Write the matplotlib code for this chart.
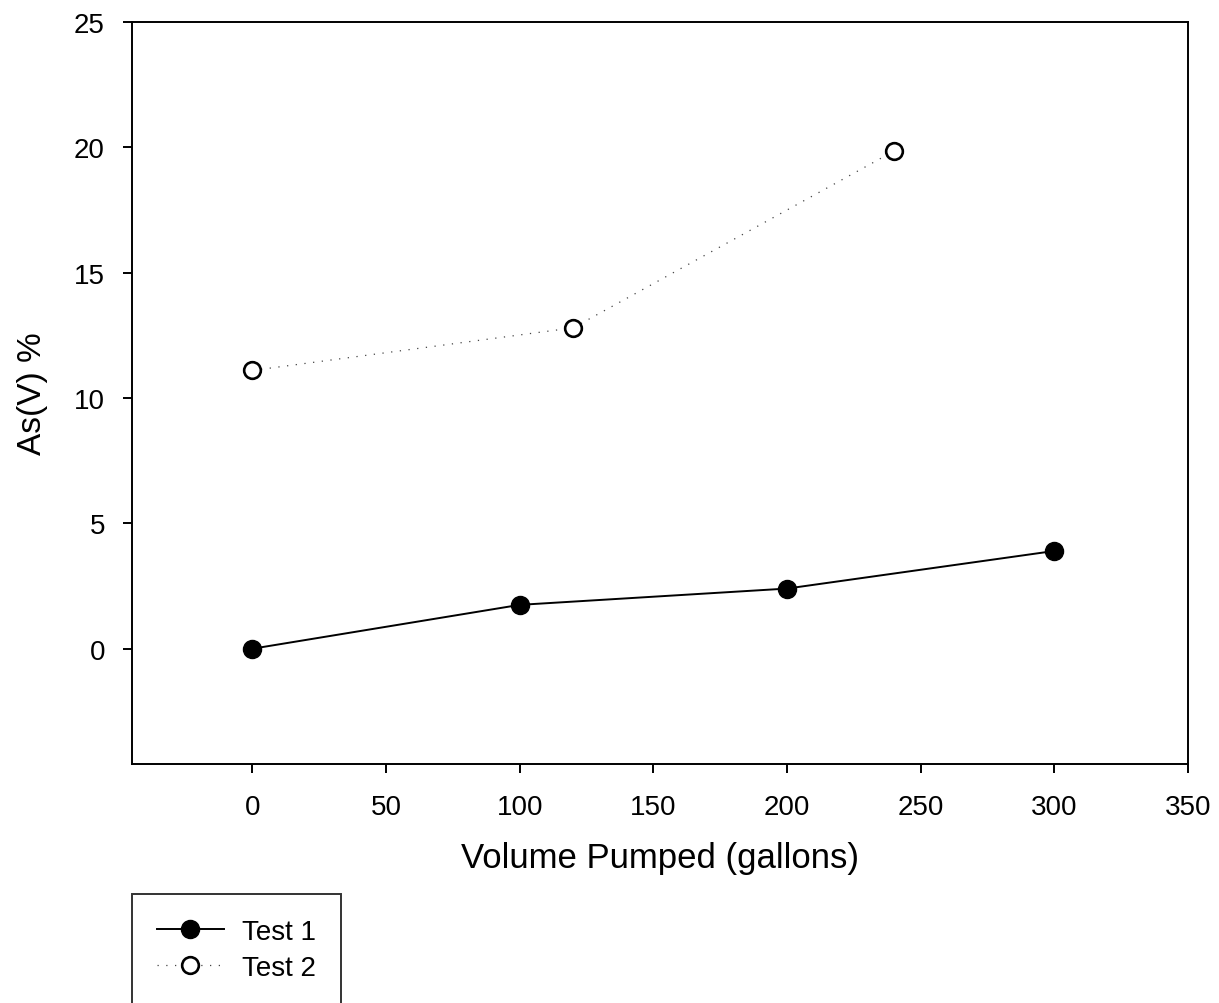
import matplotlib.pyplot as plt

plt.rcParams['font.family'] = ['Liberation Sans', 'DejaVu Sans']

# data
test1_x = [0, 100, 200, 300]
test1_y = [0.0, 1.75, 2.4, 3.9]
test2_x = [0, 120, 240]
test2_y = [11.1, 12.8, 19.85]

x_ticks = [0, 50, 100, 150, 200, 250, 300, 350]
y_ticks = [0, 5, 10, 15, 20, 25]

fig = plt.figure(figsize=(12.19, 10.04), dpi=100)
ax = fig.add_axes([0.1083, 0.238, 0.8663, 0.7391])

l1, = ax.plot(test1_x, test1_y, color='black', linewidth=1.4, marker='o',
              markersize=13, markerfacecolor='black', markeredgecolor='black',
              label='Test 1')
l2, = ax.plot(test2_x, test2_y, color='#444444', linewidth=0.9, linestyle=(0, (1, 6)),
              marker='o', markersize=12, markerfacecolor='white',
              markeredgecolor='black', markeredgewidth=1.9, label='Test 2')

ax.set_xlim(-45, 350)
ax.set_ylim(-4.6, 25)
ax.set_xticks(x_ticks)
ax.set_yticks(y_ticks)
ax.tick_params(direction='out', length=6.5, width=1.4, labelsize=20)
ax.tick_params(axis='x', pad=15)
ax.tick_params(axis='y', pad=13)
for s in ax.spines.values():
    s.set_linewidth(1.4)

ax.set_xlabel('Volume Pumped (gallons)', fontsize=25, labelpad=15)
ax.set_ylabel('As(V) %', fontsize=24, labelpad=19)

# legend sits under the axes, its frame runs off the bottom edge
leg = fig.legend(handles=[l1, l2], loc='upper left',
                 bbox_to_anchor=(132 / 1219, 1 - 895 / 1004),
                 fontsize=20, frameon=True, fancybox=False, edgecolor='black',
                 borderpad=0.9, handlelength=2.4, handletextpad=0.65,
                 labelspacing=0.35, borderaxespad=0)
leg.get_frame().set_linewidth(1.4)

fig.savefig('out.png', dpi=100)
